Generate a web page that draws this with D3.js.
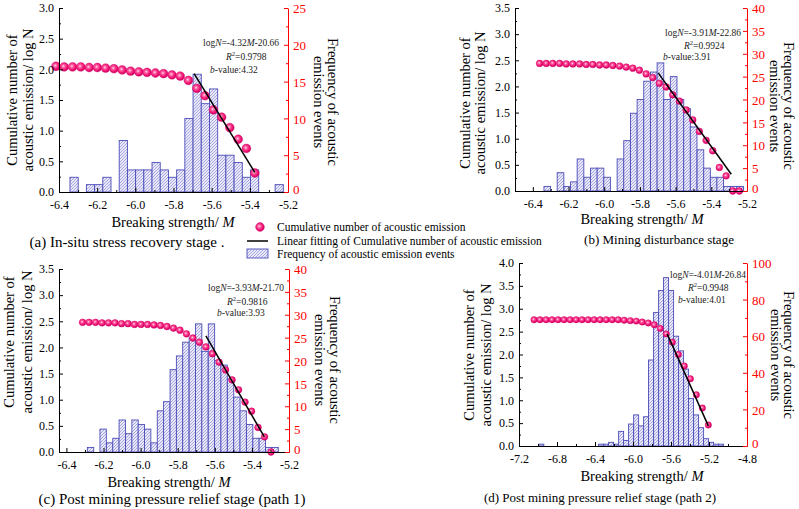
<!DOCTYPE html>
<html><head><meta charset="utf-8">
<script src="https://cdn.jsdelivr.net/npm/d3@7"></script>
<style>body{margin:0;background:#fff}svg{display:block;font-family:"Liberation Serif","Times New Roman",serif}</style>
</head><body><svg id="c" width="799" height="509"></svg>
<script>
// ---------- DATA ----------
// (a) In-situ stress recovery stage
const aXTicks = [-6.4,-6.2,-6.0,-5.8,-5.6,-5.4,-5.2];
const aYTicks = [0,0.5,1.0,1.5,2.0,2.5,3.0];
const aRTicks = [0,5,10,15,20,25];
const aBinWidth = 0.043;
const aBinM = [-6.321,-6.278,-6.235,-6.192,-6.149,-6.106,-6.063,-6.020,-5.977,-5.934,-5.891,-5.848,-5.805,-5.762,-5.719,-5.676,-5.633,-5.590,-5.547,-5.504,-5.461,-5.418,-5.375,-5.332,-5.289,-5.246];
const aFreq = [2,0,1,1,2,0,7,3,3,3,4,3,2,3,10,16,12,14,5,5,4,2,3,0,0,1];
const aCumM = [-6.416,-6.373,-6.329,-6.286,-6.242,-6.199,-6.156,-6.112,-6.069,-6.025,-5.982,-5.939,-5.895,-5.852,-5.808,-5.765,-5.722,-5.678,-5.635,-5.591,-5.548,-5.505,-5.461,-5.418,-5.374];
const aCumLogN = [2.05,2.04,2.04,2.04,2.03,2.03,2.02,2.01,1.99,1.97,1.96,1.95,1.94,1.93,1.91,1.89,1.82,1.69,1.57,1.34,1.22,1.05,0.86,0.71,0.31];
const aFitM = [-5.692,-5.374];
const aFitLogN = [1.93,0.32];

// (b) Mining disturbance stage
const bXTicks = [-6.4,-6.2,-6.0,-5.8,-5.6,-5.4,-5.2];
const bYTicks = [0,0.5,1.0,1.5,2.0,2.5,3.0,3.5];
const bRTicks = [0,5,10,15,20,25,30,35,40];
const bBinWidth = 0.0373;
const bBinM = [-6.319,-6.282,-6.245,-6.207,-6.170,-6.133,-6.095,-6.058,-6.021,-5.984,-5.946,-5.909,-5.872,-5.834,-5.797,-5.760,-5.722,-5.685,-5.648,-5.611,-5.573,-5.536,-5.499,-5.461,-5.424,-5.387,-5.350,-5.312,-5.275,-5.238];
const bFreq = [1,0,4,1,2,7,3,5,5,3,0,7,11,17,20,24,26,28,20,25,20,18,14,9,5,3,3,1,1,1];
const bCumM = [-6.362,-6.325,-6.288,-6.250,-6.213,-6.176,-6.138,-6.101,-6.064,-6.026,-5.989,-5.952,-5.914,-5.877,-5.840,-5.803,-5.765,-5.728,-5.691,-5.653,-5.616,-5.579,-5.541,-5.504,-5.467,-5.429,-5.392,-5.355,-5.317,-5.280,-5.243];
const bCumLogN = [2.44,2.44,2.44,2.44,2.43,2.43,2.43,2.42,2.42,2.41,2.41,2.40,2.39,2.37,2.35,2.31,2.24,2.17,2.06,1.99,1.84,1.72,1.55,1.36,1.14,0.97,0.77,0.45,0.29,0,0];
const bFitM = [-5.698,-5.288];
const bFitLogN = [2.26,0.32];

// (c) Post mining pressure relief stage (path 1)
const cXTicks = [-6.4,-6.2,-6.0,-5.8,-5.6,-5.4,-5.2];
const cYTicks = [0,0.5,1.0,1.5,2.0,2.5,3.0,3.5];
const cRTicks = [0,5,10,15,20,25,30,35,40];
const cBinWidth = 0.0343;
const cBinM = [-6.270,-6.236,-6.202,-6.167,-6.133,-6.099,-6.064,-6.030,-5.996,-5.962,-5.927,-5.893,-5.859,-5.824,-5.790,-5.756,-5.721,-5.687,-5.653,-5.618,-5.584,-5.550,-5.515,-5.481,-5.447,-5.412,-5.378,-5.344,-5.309,-5.275];
const cFreq = [1,0,5,2,3,7,4,7,6,5,2,9,11,18,21,24,25,28,22,28,20,19,16,12,9,6,3,3,1,1];
const cCumM = [-6.313,-6.278,-6.243,-6.208,-6.173,-6.138,-6.103,-6.068,-6.033,-5.998,-5.963,-5.928,-5.893,-5.858,-5.823,-5.788,-5.753,-5.718,-5.683,-5.648,-5.613,-5.577,-5.542,-5.507,-5.472,-5.437,-5.402,-5.367,-5.332,-5.297];
const cCumLogN = [2.48,2.48,2.48,2.47,2.47,2.47,2.455,2.455,2.44,2.44,2.44,2.43,2.42,2.40,2.37,2.33,2.26,2.18,2.10,2.01,1.88,1.72,1.57,1.38,1.19,0.955,0.78,0.47,0.29,0];
const cFitM = [-5.648,-5.333];
const cFitLogN = [2.22,0.29];

// (d) Post mining pressure relief stage (path 2)
const dXTicks = [-7.2,-6.8,-6.4,-6.0,-5.6,-5.2,-4.8];
const dYTicks = [0,0.5,1.0,1.5,2.0,2.5,3.0,3.5,4.0];
const dRTicks = [0,20,40,60,80,100];
const dBinWidth = 0.0526;
const dBinM = [-6.965,-6.336,-6.283,-6.231,-6.178,-6.125,-6.073,-6.020,-5.967,-5.915,-5.862,-5.810,-5.757,-5.704,-5.652,-5.599,-5.546,-5.494,-5.441,-5.389,-5.336,-5.283,-5.231,-5.178,-5.125,-5.073];
const dFreq = [1,1,1,2,1,8,3,12,17,11,16,47,73,85,92,85,60,52,42,26,17,10,4,2,1,1];
const dCumM = [-7.042,-6.979,-6.915,-6.852,-6.789,-6.726,-6.662,-6.599,-6.536,-6.472,-6.409,-6.346,-6.282,-6.219,-6.156,-6.093,-6.029,-5.966,-5.903,-5.839,-5.776,-5.713,-5.650,-5.586,-5.523,-5.460,-5.396,-5.333,-5.270,-5.207];
const dCumLogN = [2.76,2.76,2.76,2.76,2.76,2.76,2.76,2.76,2.76,2.76,2.76,2.76,2.76,2.76,2.76,2.75,2.74,2.73,2.71,2.69,2.65,2.57,2.45,2.27,2.0,1.75,1.47,1.12,0.83,0.46];
const dFitM = [-5.64,-5.207];
const dFitLogN = [2.45,0.44];

const legendLabels = ["Cumulative number of acoustic emission","Linear fitting of Cumulative number of acoustic emission","Frequency of acoustic emission events"];

// ---------- DRAW ----------
const svg = d3.select("#c");
const defs = svg.append("defs");
const pat = defs.append("pattern").attr("id","hatch").attr("patternUnits","userSpaceOnUse").attr("width",3).attr("height",3);
pat.append("rect").attr("width",3).attr("height",3).attr("fill","#e9e9f9");
pat.append("path").attr("d","M-0.75,0.75L0.75,-0.75M0,3L3,0M2.25,3.75L3.75,2.25").attr("stroke","#8383d0").attr("stroke-width",0.65);
const rg = defs.append("radialGradient").attr("id","ball").attr("cx","42%").attr("cy","42%").attr("r","60%");
rg.append("stop").attr("offset","0%").attr("stop-color","#ffe0ee");
rg.append("stop").attr("offset","30%").attr("stop-color","#ff5a9e");
rg.append("stop").attr("offset","75%").attr("stop-color","#ec0a6e");
rg.append("stop").attr("offset","100%").attr("stop-color","#c8005a");

const FONT = '"Liberation Serif","Times New Roman",serif';

function panel(p){
  const x = d3.scaleLinear().domain(p.xDomain).range([p.left,p.right]);
  const yL = d3.scaleLinear().domain([0,p.yTicks[p.yTicks.length-1]]).range([p.bottom,p.top]);
  const yR = d3.scaleLinear().domain([0,p.rTicks[p.rTicks.length-1]]).range([p.bottom,p.top]);
  const G = svg.append("g");
  const bw = x(p.xDomain[0]+p.binWidth)-x(p.xDomain[0]);
  const bars = d3.zip(p.binM,p.freq).filter(d=>d[1]>0);
  G.append("g").selectAll("rect").data(bars).join("rect")
    .attr("x",d=>x(d[0])-bw/2).attr("width",bw)
    .attr("y",d=>yR(d[1])).attr("height",d=>yR(0)-yR(d[1]))
    .attr("fill","url(#hatch)").attr("stroke","#4c4cb8").attr("stroke-width",0.9);
  G.append("g").selectAll("circle").data(d3.zip(p.cumM,p.cumLogN)).join("circle")
    .attr("cx",d=>x(d[0])).attr("cy",d=>yL(d[1])).attr("r",p.r)
    .attr("fill","url(#ball)").attr("stroke","#d4006a").attr("stroke-width",0.4);
  G.append("path").datum(d3.zip(p.fitM,p.fitLogN))
    .attr("d",d3.line().x(d=>x(d[0])).y(d=>yL(d[1])))
    .attr("stroke","#000").attr("stroke-width",1.5).attr("fill","none");
  const mid = t=>t.slice(1).map((v,i)=>(v+t[i])/2);
  const styleAx = (g,col,fs)=>{g.attr("font-family",FONT).attr("font-size",fs);
    g.selectAll("path,line").attr("stroke",col); g.selectAll("text").attr("fill",col);};
  const xa = G.append("g").attr("transform",`translate(0,${p.bottom})`)
    .call(d3.axisBottom(x).tickValues(p.xTicks).tickSize(-4).tickSizeOuter(0).tickPadding(8).tickFormat(d=>d.toFixed(1)));
  styleAx(xa,"#000",12);
  G.append("g").attr("transform",`translate(0,${p.bottom})`)
    .call(d3.axisBottom(x).tickValues(mid(p.xTicks)).tickSize(-2).tickSizeOuter(0).tickFormat(""))
    .call(g=>g.select(".domain").remove()).selectAll("line").attr("stroke","#000");
  const ya = G.append("g").attr("transform",`translate(${p.left},0)`)
    .call(d3.axisLeft(yL).tickValues(p.yTicks).tickSize(-4).tickSizeOuter(0).tickPadding(5).tickFormat(d=>d.toFixed(1)));
  styleAx(ya,"#000",12);
  G.append("g").attr("transform",`translate(${p.left},0)`)
    .call(d3.axisLeft(yL).tickValues(mid(p.yTicks)).tickSize(-2).tickSizeOuter(0).tickFormat(""))
    .call(g=>g.select(".domain").remove()).selectAll("line").attr("stroke","#000");
  const ra = G.append("g").attr("transform",`translate(${p.right},0)`)
    .call(d3.axisRight(yR).tickValues(p.rTicks).tickSize(-4).tickSizeOuter(0).tickPadding(5));
  styleAx(ra,"#ff0000",13);
  ra.selectAll(".tick text").attr("dy",d=>d===0?"0.15em":"0.36em");
  G.append("g").attr("transform",`translate(${p.right},0)`)
    .call(d3.axisRight(yR).tickValues(mid(p.rTicks)).tickSize(-2).tickSizeOuter(0).tickFormat(""))
    .call(g=>g.select(".domain").remove()).selectAll("line").attr("stroke","#ff0000");
  const ty = G.append("text").attr("font-family",FONT).attr("font-size",14.5).attr("text-anchor","middle")
    .attr("transform",`translate(${p.lt[0]},${p.lt[2]}) rotate(-90)`);
  ty.append("tspan").attr("x",0).attr("y",0).text("Cumulative number of");
  ty.append("tspan").attr("x",0).attr("y",p.lt[1]-p.lt[0]).text("acoustic emission/ log N");
  const tr = G.append("text").attr("font-family",FONT).attr("font-size",14.5).attr("text-anchor","middle")
    .attr("transform",`translate(${p.rt[0]},${p.rt[2]}) rotate(90)`);
  tr.append("tspan").attr("x",0).attr("y",0).text("Frequency of acoustic");
  tr.append("tspan").attr("x",0).attr("y",p.rt[0]-p.rt[1]).text("emission events");
  const tx = G.append("text").attr("font-family",FONT).attr("font-size",14.5).attr("text-anchor","middle")
    .attr("x",p.xt[0]).attr("y",p.xt[1]);
  tx.append("tspan").text("Breaking strength/ ");
  tx.append("tspan").attr("font-style","italic").text("M");
  G.append("text").attr("font-family",FONT).attr("font-size",p.cap[3]).attr("text-anchor","middle")
    .attr("x",p.cap[0]).attr("y",p.cap[1]).text(p.cap[2]);
  const eq = G.append("g").attr("font-family",FONT).attr("font-size",9.5).attr("fill","#222");
  const e1 = eq.append("text").attr("x",p.eq[0][0]).attr("y",p.eq[0][1]);
  e1.append("tspan").text("log"); e1.append("tspan").attr("font-style","italic").text("N");
  e1.append("tspan").text("=" + p.eqText[0]);
  e1.append("tspan").attr("font-style","italic").text("M");
  e1.append("tspan").text(p.eqText[1]);
  const e2 = eq.append("text").attr("x",p.eq[1][0]).attr("y",p.eq[1][1]);
  e2.append("tspan").attr("font-style","italic").text("R");
  e2.append("tspan").attr("font-size",6.5).attr("dy",-4).text("2");
  e2.append("tspan").attr("dy",4).text("=" + p.eqText[2]);
  const e3 = eq.append("text").attr("x",p.eq[2][0]).attr("y",p.eq[2][1]);
  e3.append("tspan").attr("font-style","italic").text("b");
  e3.append("tspan").text("-value:" + p.eqText[3]);
}

panel({xDomain:[-6.4,-5.2],left:59,right:288,top:8,bottom:192,xTicks:aXTicks,yTicks:aYTicks,rTicks:aRTicks,
  binWidth:aBinWidth,binM:aBinM,freq:aFreq,cumM:aCumM,cumLogN:aCumLogN,fitM:aFitM,fitLogN:aFitLogN,r:4.4,
  lt:[17,33,100],rt:[328,314,102],xt:[173,227],cap:[127,247,"(a) In-situ stress recovery stage .",15],
  eq:[[203,46],[226,60],[210,73]],eqText:["-4.32","-20.66","0.9798","4.32"]});
panel({xDomain:[-6.5,-5.2],left:515,right:747,top:8,bottom:191,xTicks:bXTicks,yTicks:bYTicks,rTicks:bRTicks,
  binWidth:bBinWidth,binM:bBinM,freq:bFreq,cumM:bCumM,cumLogN:bCumLogN,fitM:bFitM,fitLogN:bFitLogN,r:3.4,
  lt:[470,485,103],rt:[784,770,106],xt:[642,224],cap:[659,244,"(b) Mining disturbance stage",13],
  eq:[[665,36],[684,49],[663,60]],eqText:["-3.91","-22.86","0.9924","3.91"]});
panel({xDomain:[-6.44,-5.2],left:59,right:289,top:269,bottom:452,xTicks:cXTicks,yTicks:cYTicks,rTicks:cRTicks,
  binWidth:cBinWidth,binM:cBinM,freq:cFreq,cumM:cCumM,cumLogN:cCumLogN,fitM:cFitM,fitLogN:cFitLogN,r:3.4,
  lt:[14,32,342],rt:[330,315,360],xt:[169,487],cap:[172,504,"(c) Post mining pressure relief stage (path 1)",15],
  eq:[[208,291],[227,305],[217,316]],eqText:["-3.93","-21.70","0.9816","3.93"]});
panel({xDomain:[-7.2,-4.8],left:519,right:747,top:263,bottom:446,xTicks:dXTicks,yTicks:dYTicks,rTicks:dRTicks,
  binWidth:dBinWidth,binM:dBinM,freq:dFreq,cumM:dCumM,cumLogN:dCumLogN,fitM:dFitM,fitLogN:dFitLogN,r:3.2,
  lt:[474,491,355],rt:[784,771,355],xt:[642,481],cap:[600,502,"(d) Post mining pressure relief stage (path 2)",13],
  eq:[[670,278],[688,291],[678,303]],eqText:["-4.01","-26.84","0.9948","4.01"]});

const L = svg.append("g").attr("font-family",FONT).attr("font-size",11.5);
L.append("circle").attr("cx",260).attr("cy",227).attr("r",4.4).attr("fill","url(#ball)").attr("stroke","#d4006a").attr("stroke-width",0.4);
L.append("line").attr("x1",247).attr("x2",268).attr("y1",241).attr("y2",241).attr("stroke","#000").attr("stroke-width",1.5);
L.append("rect").attr("x",247).attr("y",249).attr("width",21).attr("height",9).attr("fill","url(#hatch)").attr("stroke","#4c4cb8").attr("stroke-width",0.9);
L.selectAll("text").data(legendLabels).join("text").attr("x",277).attr("y",(d,i)=>231+i*13.5).text(d=>d);
</script></body></html>
